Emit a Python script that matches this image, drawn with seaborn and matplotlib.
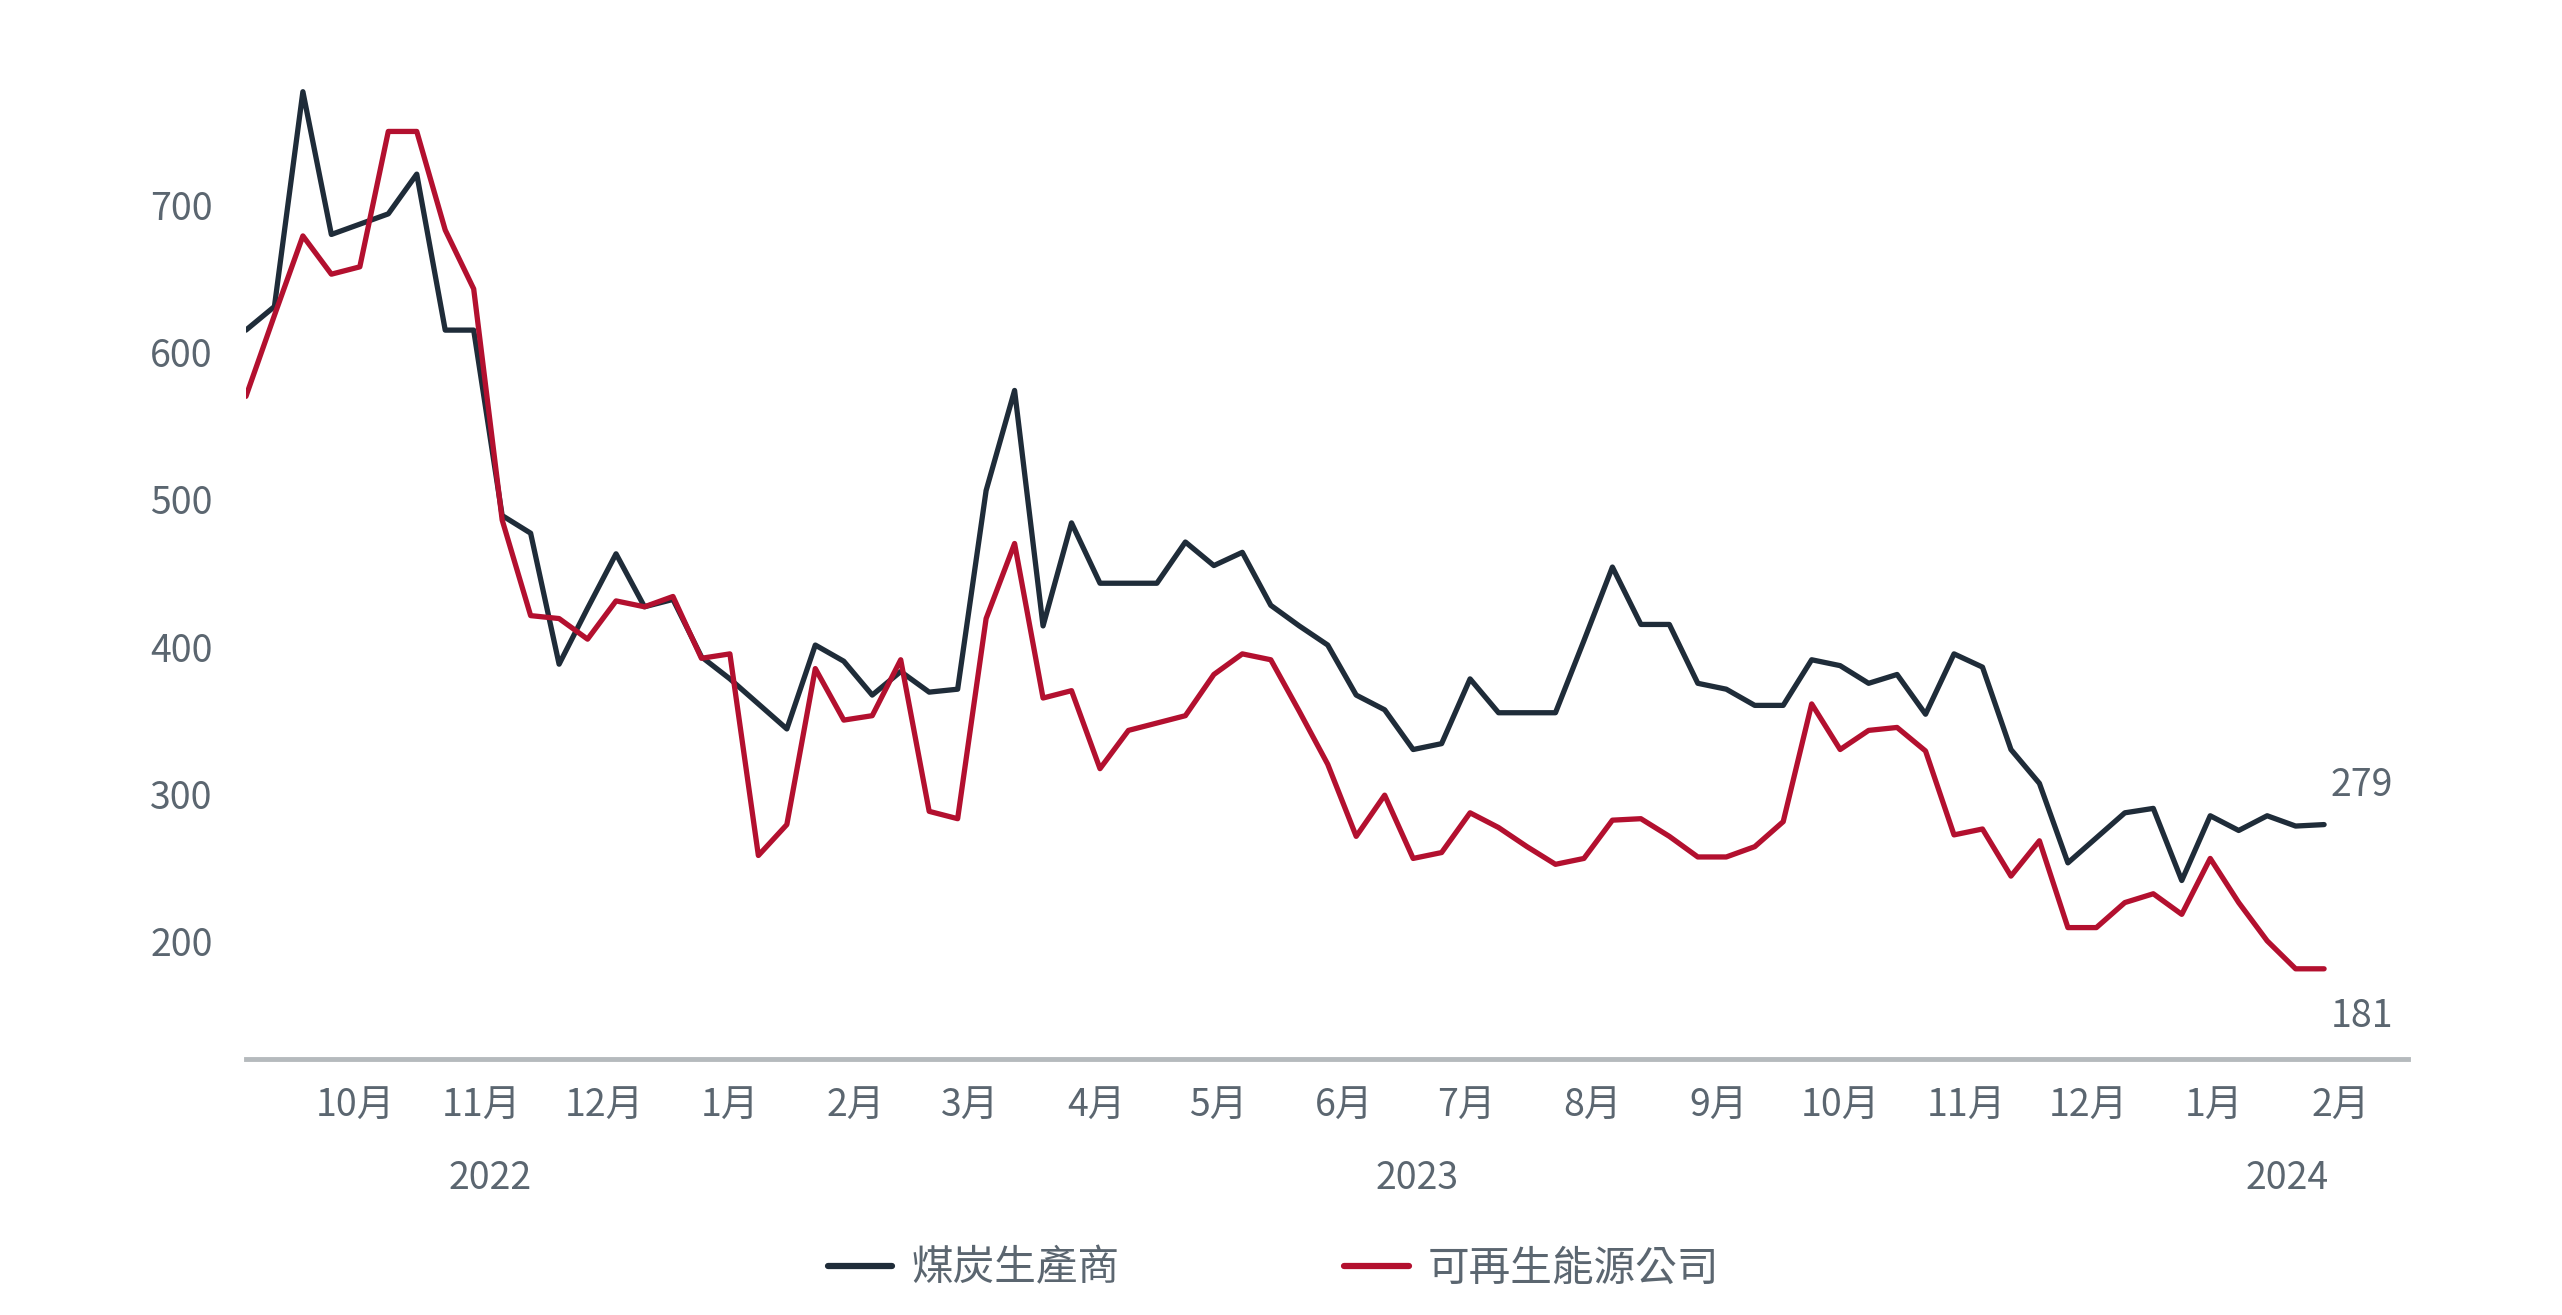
import matplotlib
matplotlib.use("Agg")
import matplotlib.pyplot as plt
import numpy as np
import pandas as pd
import seaborn as sns

# weekly values
start_date = "2022-09-02"
coal = [615, 631, 777, 680, 687, 694, 721, 615, 615, 489, 477, 388, 426,
        463, 427, 432, 393, 378, 361, 344, 401, 390, 367, 383, 369, 371,
        506, 574, 414, 484, 443, 443, 443, 471, 455, 464, 428, 414, 401,
        367, 357, 330, 334, 378, 355, 355, 355, 404, 454, 415, 415,
        375, 371, 360, 360, 391, 387, 375, 381, 354, 395, 386, 330,
        307, 253, 270, 287, 290, 241, 285, 275, 285, 278, 279]
renew = [570, 625, 679, 653, 658, 750, 750, 683, 643, 486, 421, 419, 405,
         431, 427, 434, 392, 395, 258, 279, 385, 350, 353, 391, 288, 283,
         419, 470, 365, 370, 317, 343, 348, 353, 381, 395, 391, 356, 320,
         271, 299, 256, 260, 287, 277, 264, 252, 256, 282, 283, 271,
         257, 257, 264, 281, 361, 330, 343, 345, 329, 272, 276, 244,
         268, 209, 209, 226, 232, 218, 256, 226, 200, 181, 181]
series_names = ["煤炭生產商", "可再生能源公司"]
series_colors = ["#1f2c39", "#b3102f"]
y_ticks = [200, 300, 400, 500, 600, 700]
month_starts = pd.date_range("2022-10-01", "2024-02-01", freq="MS")
month_labels = [f"{d.month}月" for d in month_starts]
year_labels = ["2022", "2023", "2024"]
year_dates = pd.to_datetime(["2022-11-01", "2023-06-17", "2024-01-17"])

dates = pd.date_range(start_date, periods=len(coal), freq="7D")
df = pd.DataFrame({"date": dates, series_names[0]: coal, series_names[1]: renew})
long_df = df.melt(id_vars="date", var_name="series", value_name="value")

sns.set_style("white")
plt.rcParams["font.family"] = ["Noto Sans CJK TC", "DejaVu Sans"]

text_color = "#5b6670"
fig = plt.figure(figsize=(25.62, 13.15), dpi=100)
ax = fig.add_axes([0.096, 0.195, 0.844, 0.761])

sns.lineplot(data=long_df, x="date", y="value", hue="series",
             palette=series_colors, linewidth=3.8, ax=ax)

ax.set_xlim(dates[0], dates[0] + pd.Timedelta(days=531.7))
ax.set_ylim(120, 800)
ax.set_yticks(y_ticks)
ax.set_yticklabels([str(v) for v in y_ticks])
# labels sit a couple of days ahead of the month start in the original
ax.set_xticks(month_starts - pd.Timedelta(days=2))
ax.set_xticklabels(month_labels)
ax.tick_params(axis="both", length=0, labelsize=27, colors=text_color)
ax.tick_params(axis="x", pad=20)
ax.tick_params(axis="y", pad=24)
ax.set_xlabel("")
ax.set_ylabel("")

for side in ["top", "right", "left"]:
    ax.spines[side].set_visible(False)
ax.spines["bottom"].set_color("#b5babd")
ax.spines["bottom"].set_linewidth(3.5)

for lbl, d in zip(year_labels, year_dates):
    ax.text(d, -0.12, lbl, transform=ax.get_xaxis_transform(), ha="center",
            va="center", fontsize=27, color=text_color)

# end value labels
ax.annotate(f"{coal[-1]}", xy=(dates[-1], coal[-1]), xytext=(27, 28),
            textcoords="offset points", ha="center", va="center",
            fontsize=27, color=text_color)
ax.annotate(f"{renew[-1]}", xy=(dates[-1], renew[-1]), xytext=(27, -34),
            textcoords="offset points", ha="center", va="center",
            fontsize=27, color=text_color)

leg = ax.legend(loc="center", bbox_to_anchor=(0.497, 0.035),
                bbox_transform=fig.transFigure, ncol=2, frameon=False,
                fontsize=30, handlelength=1.55, handletextpad=0.45,
                columnspacing=5.4, title=None)
for t in leg.get_texts():
    t.set_color(text_color)
for h in leg.get_lines():
    h.set_linewidth(4.5)

fig.savefig("out.png", dpi=100)
